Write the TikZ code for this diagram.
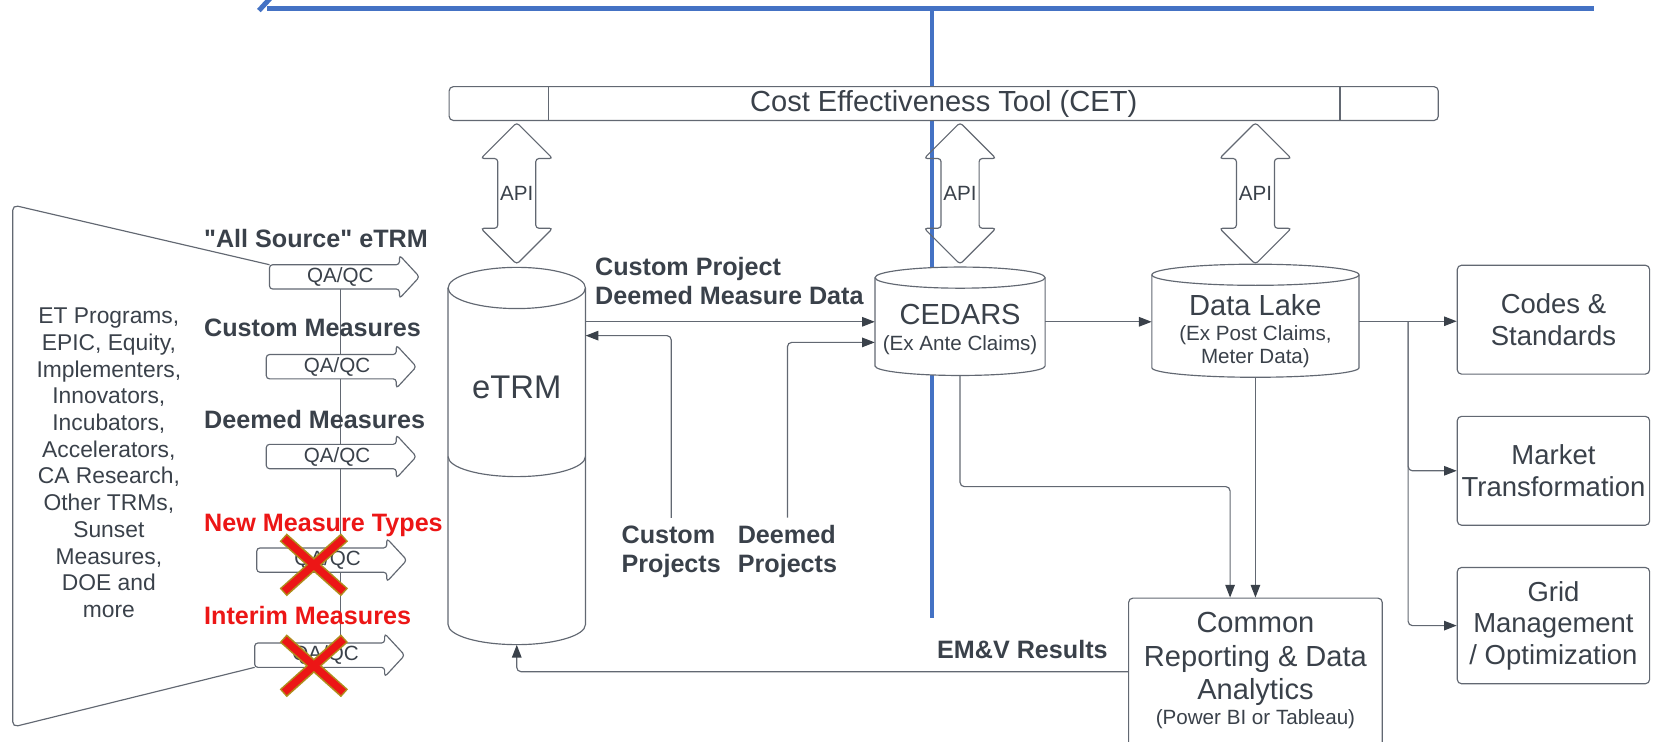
\documentclass[tikz,border=0pt]{standalone}
\usepackage{fontspec}
\setmainfont{Liberation Sans}
\usetikzlibrary{arrows.meta}
\definecolor{txt}{RGB}{58,65,74}
\definecolor{edge}{RGB}{98,104,114}
\definecolor{bl}{RGB}{68,114,196}
\definecolor{rd}{RGB}{236,22,22}
\definecolor{ol}{RGB}{176,140,28}
\newcommand\fMain{\fontsize{27.5pt}{32pt}\selectfont}
\newcommand\fBoxT{\fontsize{26pt}{30pt}\selectfont}
\newcommand\fSmall{\fontsize{19.5pt}{22pt}\selectfont}
\newcommand\fBold{\fontsize{23.8pt}{28pt}\selectfont\bfseries}
\newcommand\fSide{\fontsize{21.6pt}{25.3pt}\selectfont}
\newcommand\fBig{\fontsize{31pt}{36pt}\selectfont}
\newcommand\qaarrow[4]{%
  \draw[blk] (#2,#4-11.5) -- (#3-19,#4-11.5) -- (#3-19,#4-20.5) -- (#3,#4) -- (#3-19,#4+20.5) -- (#3-19,#4+11.5) -- (#2,#4+11.5) -- cycle;
  \node[font=\fSmall] (#1) at ({(#2+#3)/2-4},#4) {QA/QC};}
\newcommand\apiarrow[2]{%
  \draw[blk, fill=none] (#2,116) -- (#2+34,150) -- (#2+18,150) -- (#2+18,216) -- (#2+34,216) -- (#2,250) -- (#2-34,216) -- (#2-18,216) -- (#2-18,150) -- (#2-34,150) -- cycle;
  \node[font=\fSmall] (#1) at (#2,183) {API};}
\newcommand\cyl[6]{%
  \pgfmathsetmacro\rx{(#2-#1)/2}
  \filldraw[shp] (#1,#3) -- (#1,#4) arc[start angle=180,end angle=360,x radius=\rx pt,y radius=#6pt] -- (#2,#3) arc[start angle=0,end angle=180,x radius=\rx pt,y radius=#5pt] -- cycle;
  \draw[shp,fill=none] (#1,#3) arc[start angle=180,end angle=360,x radius=\rx pt,y radius=#5pt];}
\begin{document}
\begin{tikzpicture}[x=1pt,y=-1pt,
  every node/.style={inner sep=0pt, text=txt},
  shp/.style={draw=edge, line width=1.1pt, fill=white},
  blk/.style={shp, rounded corners=3pt},
  box/.style={shp, rounded corners=4pt},
  line/.style={draw=edge, line width=1.1pt},
  conn/.style={draw=edge, line width=1.1pt, rounded corners=4pt, -{Triangle[length=12pt,width=9pt,color=txt]}},
  lbl/.style={font=\fBold, anchor=base west}]
\useasboundingbox (0,0) rectangle (1568,702);
\clip (0,0) rectangle (1568,702);
% blue lines
\draw[bl, line width=4.7pt] (245,10) -- (256,-2);
\draw[bl, line width=4.7pt] (253,8) -- (1508,8);
\draw[bl, line width=4.5pt] (882,8) -- (882,585);
% source trapezoid
\draw[line, rounded corners=5pt] (255,250.5) -- (12,194) -- (12,688) -- (241,631.5);
\node[font=\fSide, align=center] (src) at (103,438) {ET Programs,\\EPIC, Equity,\\Implementers,\\Innovators,\\Incubators,\\Accelerators,\\CA Research,\\Other TRMs,\\Sunset\\Measures,\\DOE and\\more};
\coordinate (vtop) at (322,273.5);
\coordinate (vbot) at (322,608.5);
\draw[line] (vtop) -- (vbot);
\qaarrow{qa1}{255}{397}{262}
\qaarrow{qa2}{252}{394}{347}
\qaarrow{qa3}{252}{394}{432}
\qaarrow{qa4}{243}{385}{530}
\qaarrow{qa5}{241}{383}{620}
\node[lbl] (l1) at (193,234.5) {\textquotedbl All Source\textquotedbl{} eTRM};
\node[lbl] (l2) at (193,318.5) {Custom Measures};
\node[lbl] (l3) at (193,405.5) {Deemed Measures};
\node[lbl, text=rd] (l4) at (193,502.5) {New Measure Types};
\node[lbl, text=rd] (l5) at (193,590.5) {Interim Measures};
% red crosses
\foreach \cx/\cy in {297/534.5, 297/630} {
  \draw[ol, line width=10pt] (\cx-29,\cy-26) -- (\cx+29,\cy+26) (\cx+29,\cy-26) -- (\cx-29,\cy+26);
}
\foreach \cx/\cy in {297/534.5, 297/630} {
  \draw[rd, line width=7pt] (\cx-28,\cy-25) -- (\cx+28,\cy+25) (\cx+28,\cy-25) -- (\cx-28,\cy+25);
}
% CET bar
\node[box, minimum width=936pt, minimum height=32pt, font=\fMain] (cet) at (893,98) {Cost Effectiveness Tool (CET)};
\draw[line] (cet.north -| 519,0) -- (cet.south -| 519,0);
\draw[line] (cet.north -| 1268,0) -- (cet.south -| 1268,0);
% API arrows
\apiarrow{api1}{489}
\apiarrow{api2}{908.5}
\apiarrow{api3}{1188}
% cylinders
\cyl{424}{554}{272.5}{591}{19.5}{19}
\draw[shp, fill=none] (424,432) arc[start angle=180,end angle=360,x radius=65pt,y radius=19pt];
\cyl{828}{989}{262.7}{346.3}{10}{9}
\cyl{1090}{1286}{260}{348}{10}{9}
\node[minimum width=130pt, minimum height=318.5pt] (etrm) at (489,431.75) {};
\node[minimum width=161pt, minimum height=83.6pt] (cedars) at (908.5,304.5) {};
\node[minimum width=196pt, minimum height=88pt] (datalake) at (1188,304) {};
\node[font=\fBig] (etrmt) at (489,367) {eTRM};
\node[font=\fMain] (cedt) at (908.5,298) {CEDARS};
\node[font=\fSmall] (ceds) at (908.5,327) {(Ex Ante Claims)};
\node[font=\fMain] (dlt) at (1188,288.6) {Data Lake};
\node[font=\fSmall, align=center] (dls) at (1188,328) {(Ex Post Claims,\\Meter Data)};
% boxes
\node[box, minimum width=240pt, minimum height=146pt] (common) at (1188,639) {};
\node[font=\fMain, align=center] (commont) at (1188,623.5) {Common\\Reporting \& Data\\Analytics};
\node[font=\fSmall] (commons) at (1188,681) {(Power BI or Tableau)};
\node[box, minimum width=182pt, minimum height=103pt, font=\fBoxT, align=center] (codes) at (1470,302.5) {Codes \&\\Standards};
\node[box, minimum width=182pt, minimum height=103pt, font=\fBoxT, align=center] (market) at (1470,445.5) {Market\\Transformation};
\node[box, minimum width=182pt, minimum height=110pt, font=\fBoxT, align=center] (grid) at (1470,592) {Grid\\Management\\/ Optimization};
% labels
\node[font=\fBold, align=left, anchor=west] (cpdm) at (563,266) {Custom Project\\Deemed Measure Data};
\node[font=\fBold, align=left, anchor=west] (cp) at (588,522) {Custom\\Projects};
\node[font=\fBold, align=left, anchor=west] (dp) at (698,522) {Deemed\\Projects};
\node[font=\fBold, anchor=base west] (emv) at (886.6,623.4) {EM\&V Results};
% connectors
\draw[conn] (etrm.east |- cedars.west) -- (cedars.west);
\draw[conn] ([yshift=7pt]cp.north) |- (etrm.east |- 0,317.6);
\draw[conn] ([yshift=7pt]dp.north) |- (cedars.west |- 0,324);
\draw[conn] (cedars.east) -- (cedars.east -| datalake.west);
\draw[conn] ([yshift=-9pt]cedars.south) -- (cedars.south |- 0,460.5) -| ([xshift=-24pt]common.north);
\draw[conn] ([yshift=-9pt]datalake.south) -- (common.north);
\draw[conn] (common.west |- 0,635.6) -| ([yshift=-19pt]etrm.south);
\coordinate (br) at (1332.5,304);
\draw[conn] (datalake.east) -- (datalake.east -| codes.west);
\draw[conn] (br) |- (market.west);
\draw[conn] (br) |- (grid.west);
\end{tikzpicture}
\end{document}
